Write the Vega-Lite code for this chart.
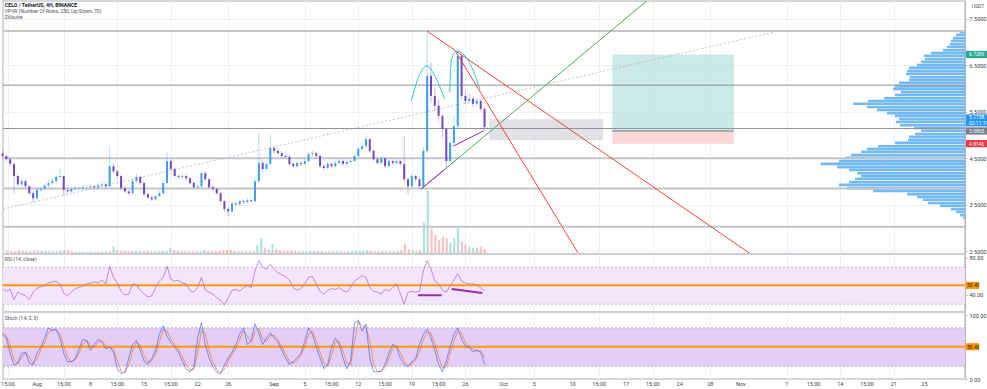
{
"$schema":"https://vega.github.io/schema/vega-lite/v6.json",
"padding":0,
"background":"#ffffff",
"bounds":"flush",
"spacing":0,
"config":{"font":"Roboto","view":{"stroke":"#c8cad0","strokeWidth":1.5},"axis":{"labelFontSize":5.5,"labelColor":"#3d404a","gridColor":"#eef0f5","gridWidth":1,"domainColor":"#b2b5be","tickColor":"#b2b5be","tickSize":2,"labelPadding":2}},
"datasets":{
"bars":[
{"d":-4.5,"o":4.6,"h":4.66,"l":4.5,"c":4.55,"v":0.05,"r":47,"k":70,"s":72},
{"d":-4,"o":4.55,"h":4.58,"l":4.44,"c":4.48,"v":0.04,"r":44,"k":64,"s":67},
{"d":-3.5,"o":4.48,"h":4.52,"l":4.33,"c":4.38,"v":0.04,"r":46,"k":40,"s":52},
{"d":-3,"o":4.38,"h":4.4,"l":3.75,"c":4.12,"v":0.06,"r":35,"k":22,"s":31},
{"d":-2.5,"o":4.12,"h":4.16,"l":3.9,"c":3.94,"v":0.05,"r":43,"k":25,"s":24},
{"d":-2,"o":3.94,"h":4.06,"l":3.9,"c":4.01,"v":0.04,"r":41,"k":40,"s":33},
{"d":-1.5,"o":4.01,"h":4.05,"l":3.86,"c":3.9,"v":0.04,"r":39,"k":42,"s":41},
{"d":-1,"o":3.9,"h":3.93,"l":3.7,"c":3.75,"v":0.05,"r":35,"k":25,"s":34},
{"d":-0.5,"o":3.75,"h":3.78,"l":3.56,"c":3.64,"v":0.06,"r":43,"k":22,"s":24},
{"d":0,"o":3.64,"h":3.86,"l":3.61,"c":3.82,"v":0.05,"r":47,"k":40,"s":31},
{"d":0.5,"o":3.82,"h":3.89,"l":3.78,"c":3.84,"v":0.04,"r":49,"k":50,"s":45},
{"d":1,"o":3.84,"h":3.96,"l":3.8,"c":3.92,"v":0.04,"r":50,"k":64,"s":57},
{"d":1.5,"o":3.92,"h":4.02,"l":3.88,"c":3.97,"v":0.04,"r":53,"k":80,"s":72},
{"d":2,"o":3.97,"h":4.06,"l":3.93,"c":4.01,"v":0.04,"r":54,"k":75,"s":78},
{"d":2.5,"o":4.01,"h":4.15,"l":3.98,"c":4.1,"v":0.05,"r":55,"k":78,"s":77},
{"d":3,"o":4.1,"h":4.29,"l":4.06,"c":4.12,"v":0.06,"r":52,"k":64,"s":71},
{"d":3.5,"o":4.12,"h":4.14,"l":3.7,"c":3.82,"v":0.06,"r":42,"k":40,"s":52},
{"d":4,"o":3.82,"h":3.86,"l":3.74,"c":3.79,"v":0.04,"r":39,"k":27,"s":34},
{"d":4.5,"o":3.79,"h":3.88,"l":3.76,"c":3.84,"v":0.03,"r":43,"k":27,"s":27},
{"d":5,"o":3.84,"h":3.9,"l":3.81,"c":3.86,"v":0.03,"r":47,"k":32,"s":30},
{"d":5.5,"o":3.86,"h":3.9,"l":3.82,"c":3.86,"v":0.03,"r":48,"k":47,"s":40},
{"d":6,"o":3.86,"h":3.92,"l":3.83,"c":3.88,"v":0.03,"r":50,"k":62,"s":55},
{"d":6.5,"o":3.88,"h":3.93,"l":3.84,"c":3.88,"v":0.03,"r":52,"k":60,"s":61},
{"d":7,"o":3.88,"h":3.94,"l":3.85,"c":3.9,"v":0.03,"r":53,"k":45,"s":53},
{"d":7.5,"o":3.9,"h":3.93,"l":3.84,"c":3.88,"v":0.03,"r":54,"k":54,"s":50},
{"d":8,"o":3.88,"h":3.96,"l":3.85,"c":3.92,"v":0.03,"r":53,"k":62,"s":58},
{"d":8.5,"o":3.92,"h":4,"l":3.89,"c":3.94,"v":0.03,"r":56,"k":57,"s":60},
{"d":9,"o":3.94,"h":3.98,"l":3.86,"c":3.9,"v":0.04,"r":52,"k":47,"s":52},
{"d":9.5,"o":3.9,"h":4.78,"l":3.88,"c":4.33,"v":0.12,"r":71,"k":50,"s":49},
{"d":10,"o":4.33,"h":4.4,"l":4.18,"c":4.22,"v":0.06,"r":59,"k":42,"s":46},
{"d":10.5,"o":4.22,"h":4.26,"l":4.07,"c":4.12,"v":0.05,"r":53,"k":16,"s":29},
{"d":11,"o":4.12,"h":4.15,"l":3.82,"c":3.86,"v":0.05,"r":44,"k":8,"s":12},
{"d":11.5,"o":3.86,"h":3.9,"l":3.74,"c":3.79,"v":0.04,"r":40,"k":11,"s":10},
{"d":12,"o":3.79,"h":3.82,"l":3.7,"c":3.75,"v":0.04,"r":41,"k":33,"s":22},
{"d":12.5,"o":3.75,"h":4.06,"l":3.73,"c":4.01,"v":0.05,"r":52,"k":54,"s":44},
{"d":13,"o":4.01,"h":4.16,"l":3.98,"c":4.1,"v":0.05,"r":51,"k":60,"s":57},
{"d":13.5,"o":4.1,"h":4.13,"l":3.93,"c":3.97,"v":0.04,"r":45,"k":45,"s":53},
{"d":14,"o":3.97,"h":4,"l":3.69,"c":3.73,"v":0.05,"r":41,"k":28,"s":37},
{"d":14.5,"o":3.73,"h":3.76,"l":3.62,"c":3.66,"v":0.04,"r":38,"k":23,"s":26},
{"d":15,"o":3.66,"h":3.7,"l":3.58,"c":3.62,"v":0.04,"r":39,"k":32,"s":28},
{"d":15.5,"o":3.62,"h":3.73,"l":3.59,"c":3.69,"v":0.04,"r":48,"k":45,"s":39},
{"d":16,"o":3.69,"h":3.8,"l":3.66,"c":3.75,"v":0.04,"r":55,"k":70,"s":58},
{"d":16.5,"o":3.75,"h":4.02,"l":3.72,"c":3.97,"v":0.05,"r":59,"k":83,"s":77},
{"d":17,"o":3.97,"h":4.65,"l":3.95,"c":4.44,"v":0.1,"r":71,"k":67,"s":75},
{"d":17.5,"o":4.44,"h":4.48,"l":4.22,"c":4.27,"v":0.06,"r":57,"k":57,"s":62},
{"d":18,"o":4.27,"h":4.3,"l":4.08,"c":4.12,"v":0.05,"r":55,"k":50,"s":54},
{"d":18.5,"o":4.12,"h":4.16,"l":4.06,"c":4.1,"v":0.04,"r":56,"k":42,"s":46},
{"d":19,"o":4.1,"h":4.16,"l":4.07,"c":4.12,"v":0.04,"r":53,"k":28,"s":35},
{"d":19.5,"o":4.12,"h":4.15,"l":4.03,"c":4.07,"v":0.04,"r":52,"k":16,"s":22},
{"d":20,"o":4.07,"h":4.1,"l":3.93,"c":3.97,"v":0.04,"r":45,"k":11,"s":14},
{"d":20.5,"o":3.97,"h":4,"l":3.84,"c":3.88,"v":0.04,"r":43,"k":19,"s":15},
{"d":21,"o":3.88,"h":3.95,"l":3.85,"c":3.9,"v":0.04,"r":48,"k":64,"s":42},
{"d":21.5,"o":3.9,"h":4.22,"l":3.88,"c":4.18,"v":0.06,"r":59,"k":88,"s":76},
{"d":22,"o":4.18,"h":4.21,"l":4.01,"c":4.05,"v":0.05,"r":45,"k":54,"s":71},
{"d":22.5,"o":4.05,"h":4.08,"l":3.84,"c":3.88,"v":0.04,"r":43,"k":33,"s":44},
{"d":23,"o":3.88,"h":3.92,"l":3.8,"c":3.84,"v":0.04,"r":41,"k":19,"s":26},
{"d":23.5,"o":3.84,"h":3.87,"l":3.71,"c":3.75,"v":0.05,"r":37,"k":11,"s":15},
{"d":24,"o":3.75,"h":3.78,"l":3.54,"c":3.58,"v":0.06,"r":34,"k":8,"s":10},
{"d":24.5,"o":3.58,"h":3.61,"l":3.36,"c":3.41,"v":0.07,"r":29,"k":22,"s":15},
{"d":25,"o":3.41,"h":3.45,"l":3.25,"c":3.36,"v":0.07,"r":37,"k":33,"s":28},
{"d":25.5,"o":3.36,"h":3.57,"l":3.33,"c":3.53,"v":0.05,"r":45,"k":42,"s":38},
{"d":26,"o":3.53,"h":3.57,"l":3.47,"c":3.51,"v":0.04,"r":46,"k":54,"s":48},
{"d":26.5,"o":3.51,"h":3.62,"l":3.48,"c":3.58,"v":0.04,"r":44,"k":70,"s":62},
{"d":27,"o":3.58,"h":3.61,"l":3.52,"c":3.56,"v":0.04,"r":48,"k":80,"s":75},
{"d":27.5,"o":3.56,"h":3.64,"l":3.53,"c":3.6,"v":0.04,"r":50,"k":54,"s":67},
{"d":28,"o":3.6,"h":3.63,"l":3.54,"c":3.58,"v":0.04,"r":48,"k":60,"s":57},
{"d":28.5,"o":3.58,"h":4.06,"l":3.56,"c":4.01,"v":0.14,"r":66,"k":86,"s":73},
{"d":29,"o":4.01,"h":5.02,"l":3.98,"c":4.4,"v":0.25,"r":77,"k":72,"s":79},
{"d":29.5,"o":4.4,"h":4.46,"l":4.2,"c":4.27,"v":0.1,"r":70,"k":54,"s":63},
{"d":30,"o":4.27,"h":4.45,"l":4.23,"c":4.38,"v":0.08,"r":68,"k":64,"s":59},
{"d":30.5,"o":4.38,"h":5,"l":4.35,"c":4.72,"v":0.16,"r":73,"k":72,"s":68},
{"d":31,"o":4.72,"h":4.78,"l":4.6,"c":4.66,"v":0.08,"r":68,"k":64,"s":68},
{"d":31.5,"o":4.66,"h":4.7,"l":4.57,"c":4.61,"v":0.06,"r":64,"k":57,"s":61},
{"d":32,"o":4.61,"h":4.65,"l":4.5,"c":4.55,"v":0.05,"r":62,"k":45,"s":51},
{"d":32.5,"o":4.55,"h":4.6,"l":4.49,"c":4.53,"v":0.05,"r":60,"k":33,"s":39},
{"d":33,"o":4.53,"h":4.56,"l":4.33,"c":4.38,"v":0.05,"r":56,"k":23,"s":28},
{"d":33.5,"o":4.38,"h":4.42,"l":4.28,"c":4.33,"v":0.05,"r":48,"k":27,"s":25},
{"d":34,"o":4.33,"h":4.45,"l":4.3,"c":4.4,"v":0.04,"r":45,"k":33,"s":30},
{"d":34.5,"o":4.4,"h":4.44,"l":4.34,"c":4.38,"v":0.04,"r":47,"k":40,"s":37},
{"d":35,"o":4.38,"h":4.49,"l":4.35,"c":4.44,"v":0.04,"r":52,"k":59,"s":50},
{"d":35.5,"o":4.44,"h":4.64,"l":4.41,"c":4.59,"v":0.05,"r":59,"k":80,"s":70},
{"d":36,"o":4.59,"h":4.66,"l":4.55,"c":4.61,"v":0.05,"r":60,"k":70,"s":75},
{"d":36.5,"o":4.61,"h":4.65,"l":4.51,"c":4.55,"v":0.04,"r":52,"k":50,"s":60},
{"d":37,"o":4.55,"h":4.58,"l":4.29,"c":4.33,"v":0.05,"r":44,"k":33,"s":42},
{"d":37.5,"o":4.33,"h":4.37,"l":4.24,"c":4.29,"v":0.04,"r":41,"k":16,"s":25},
{"d":38,"o":4.29,"h":4.42,"l":4.26,"c":4.38,"v":0.04,"r":45,"k":23,"s":20},
{"d":38.5,"o":4.38,"h":4.41,"l":4.29,"c":4.33,"v":0.04,"r":47,"k":50,"s":37},
{"d":39,"o":4.33,"h":4.44,"l":4.3,"c":4.4,"v":0.04,"r":46,"k":64,"s":57},
{"d":39.5,"o":4.4,"h":4.48,"l":4.37,"c":4.44,"v":0.04,"r":48,"k":54,"s":59},
{"d":40,"o":4.44,"h":4.47,"l":4.34,"c":4.38,"v":0.04,"r":45,"k":33,"s":44},
{"d":40.5,"o":4.38,"h":4.46,"l":4.35,"c":4.42,"v":0.04,"r":43,"k":16,"s":25},
{"d":41,"o":4.42,"h":4.48,"l":4.39,"c":4.44,"v":0.04,"r":48,"k":28,"s":22},
{"d":41.5,"o":4.44,"h":4.6,"l":4.41,"c":4.55,"v":0.05,"r":55,"k":88,"s":58},
{"d":42,"o":4.55,"h":4.75,"l":4.52,"c":4.7,"v":0.05,"r":58,"k":91,"s":90},
{"d":42.5,"o":4.7,"h":4.81,"l":4.66,"c":4.76,"v":0.05,"r":61,"k":75,"s":83},
{"d":43,"o":4.76,"h":5,"l":4.72,"c":4.91,"v":0.06,"r":59,"k":86,"s":81},
{"d":43.5,"o":4.91,"h":4.94,"l":4.62,"c":4.66,"v":0.05,"r":48,"k":33,"s":60},
{"d":44,"o":4.66,"h":4.7,"l":4.44,"c":4.48,"v":0.04,"r":44,"k":12,"s":23},
{"d":44.5,"o":4.48,"h":4.52,"l":4.36,"c":4.4,"v":0.04,"r":43,"k":11,"s":12},
{"d":45,"o":4.4,"h":4.54,"l":4.37,"c":4.5,"v":0.04,"r":41,"k":12,"s":12},
{"d":45.5,"o":4.5,"h":4.53,"l":4.29,"c":4.33,"v":0.04,"r":46,"k":23,"s":18},
{"d":46,"o":4.33,"h":4.48,"l":4.3,"c":4.44,"v":0.04,"r":44,"k":40,"s":32},
{"d":46.5,"o":4.44,"h":4.47,"l":4.36,"c":4.4,"v":0.04,"r":48,"k":54,"s":47},
{"d":47,"o":4.4,"h":4.48,"l":4.37,"c":4.44,"v":0.04,"r":52,"k":50,"s":52},
{"d":47.5,"o":4.44,"h":4.47,"l":4.34,"c":4.38,"v":0.06,"r":41,"k":32,"s":41},
{"d":48,"o":4.38,"h":4.98,"l":3.98,"c":4.05,"v":0.16,"r":30,"k":23,"s":28},
{"d":48.5,"o":4.05,"h":4.08,"l":3.73,"c":3.9,"v":0.08,"r":43,"k":19,"s":21},
{"d":49,"o":3.9,"h":4.16,"l":3.87,"c":4.12,"v":0.06,"r":44,"k":27,"s":23},
{"d":49.5,"o":4.12,"h":4.16,"l":4,"c":4.05,"v":0.05,"r":43,"k":32,"s":30},
{"d":50,"o":4.05,"h":4.08,"l":3.84,"c":3.9,"v":0.06,"r":44,"k":54,"s":43},
{"d":50.5,"o":3.9,"h":4.75,"l":3.84,"c":4.66,"v":0.5,"r":66,"k":70,"s":62},
{"d":51,"o":4.66,"h":7.23,"l":4.6,"c":6.27,"v":1,"r":77,"k":78,"s":74},
{"d":51.5,"o":6.27,"h":6.55,"l":5.7,"c":5.84,"v":0.4,"r":68,"k":64,"s":71},
{"d":52,"o":5.84,"h":6,"l":5.5,"c":5.63,"v":0.3,"r":55,"k":45,"s":55},
{"d":52.5,"o":5.63,"h":5.75,"l":5.3,"c":5.41,"v":0.22,"r":52,"k":23,"s":34},
{"d":53,"o":5.41,"h":5.45,"l":4.95,"c":5.13,"v":0.28,"r":45,"k":11,"s":17},
{"d":53.5,"o":5.13,"h":5.16,"l":4.27,"c":4.44,"v":0.25,"r":43,"k":28,"s":20},
{"d":54,"o":4.44,"h":4.9,"l":4.4,"c":4.83,"v":0.18,"r":50,"k":50,"s":39},
{"d":54.5,"o":4.83,"h":5.4,"l":4.8,"c":5.19,"v":0.25,"r":56,"k":70,"s":60},
{"d":55,"o":5.19,"h":6.8,"l":5.15,"c":6.7,"v":0.42,"r":63,"k":80,"s":75},
{"d":55.5,"o":6.7,"h":6.75,"l":5.75,"c":5.84,"v":0.2,"r":55,"k":62,"s":71},
{"d":56,"o":5.84,"h":5.95,"l":5.65,"c":5.73,"v":0.15,"r":53,"k":52,"s":57},
{"d":56.5,"o":5.73,"h":5.88,"l":5.68,"c":5.78,"v":0.12,"r":52,"k":49,"s":51},
{"d":57,"o":5.78,"h":5.82,"l":5.6,"c":5.67,"v":0.1,"r":52,"k":42,"s":46},
{"d":57.5,"o":5.67,"h":5.8,"l":5.63,"c":5.73,"v":0.1,"r":51,"k":45,"s":44},
{"d":58,"o":5.73,"h":5.76,"l":5.5,"c":5.56,"v":0.12,"r":48,"k":42,"s":44},
{"d":58.5,"o":5.56,"h":5.6,"l":5.1,"c":5.17,"v":0.08,"r":44,"k":23,"s":33}
],
"vp":[
{"p":7.21,"w":5},{"p":7.15,"w":9},{"p":7.08,"w":12},{"p":7.02,"w":14},{"p":6.95,"w":15},{"p":6.89,"w":18},{"p":6.82,"w":22},{"p":6.76,"w":34},{"p":6.70,"w":41},{"p":6.63,"w":40},{"p":6.57,"w":44},{"p":6.50,"w":48},{"p":6.44,"w":56},{"p":6.37,"w":58},{"p":6.31,"w":59},{"p":6.24,"w":55},{"p":6.18,"w":56},{"p":6.12,"w":66},{"p":6.05,"w":70},{"p":5.99,"w":72},{"p":5.92,"w":64},{"p":5.86,"w":70},{"p":5.79,"w":81},{"p":5.73,"w":97},{"p":5.67,"w":112},{"p":5.60,"w":98},{"p":5.54,"w":88},{"p":5.47,"w":78},{"p":5.41,"w":70},{"p":5.34,"w":66},{"p":5.28,"w":69},{"p":5.21,"w":65},{"p":5.15,"w":51},{"p":5.09,"w":44},{"p":5.02,"w":50},{"p":4.96,"w":56},{"p":4.89,"w":57},{"p":4.83,"w":70},{"p":4.76,"w":87},{"p":4.70,"w":98},{"p":4.64,"w":104},{"p":4.57,"w":114},{"p":4.51,"w":120},{"p":4.44,"w":126},{"p":4.38,"w":144},{"p":4.31,"w":128},{"p":4.25,"w":116},{"p":4.18,"w":108},{"p":4.12,"w":104},{"p":4.06,"w":110},{"p":3.99,"w":116},{"p":3.93,"w":126},{"p":3.86,"w":118},{"p":3.80,"w":92},{"p":3.73,"w":58},{"p":3.67,"w":48},{"p":3.61,"w":42},{"p":3.54,"w":37},{"p":3.48,"w":25},{"p":3.41,"w":14},{"p":3.35,"w":9},{"p":3.28,"w":5},{"p":3.22,"w":2}
],
"levels":[{"p":7.23,"k":"a"},{"p":6.07,"k":"b"},{"p":5.14,"k":"b"},{"p":4.5,"k":"a"},{"p":3.85,"k":"a"},{"p":3.03,"k":"a"}],
"trend":[{"d":-4.44,"p":3.41},{"d":96.9,"p":7.23}],
"draw":[
{"id":"green","d":50.2,"p":3.84},{"id":"green","d":79.7,"p":7.876},
{"id":"red1","d":50.98,"p":7.23},{"id":"red1","d":93.07,"p":2.47},
{"id":"red2","d":54.77,"p":6.78},{"id":"red2","d":70.72,"p":2.47},
{"id":"pv1","d":50.2,"p":3.84},{"id":"pv1","d":53.2,"p":4.25},
{"id":"pv2","d":54.4,"p":4.76},{"id":"pv2","d":58.4,"p":5.09},
{"id":"arc1","d":48.93,"p":5.73},{"id":"arc1","d":50.03,"p":6.3},{"id":"arc1","d":50.98,"p":6.48},{"id":"arc1","d":51.99,"p":6.27},{"id":"arc1","d":53.29,"p":5.77},
{"id":"arc2","d":53.95,"p":5.91},{"id":"arc2","d":54.16,"p":6.59},{"id":"arc2","d":54.6,"p":6.78},{"id":"arc2","d":55.03,"p":6.8},{"id":"arc2","d":56.1,"p":6.66},{"id":"arc2","d":57.2,"p":6.31},{"id":"arc2","d":57.87,"p":5.99}
],
"boxes":[{"id":"zone","d1":59.1,"d2":74.0,"p1":4.89,"p2":5.34},{"id":"tp","d1":75.2,"d2":91.1,"p1":5.0865,"p2":6.7289},{"id":"sl","d1":75.2,"d2":91.1,"p1":4.8146,"p2":5.0865}],
"tags":[{"p":6.7289,"t":"6.7289","k":"tp"},{"p":5.0865,"t":"5.0865","k":"entry"},{"p":4.8146,"t":"4.8146","k":"sl"}],
"last":[{"p":5.1738,"t":"5.1738","cd":"02:11:19"}],
"titles":[{"n":1,"t":"CELO / TetherUS, 4H, BINANCE","p":7.79},{"n":2,"t":"VPVR (Number Of Rows, 250, Up/Down, 70)","p":7.66},{"n":3,"t":"Zillsuite","p":7.53}],
"unit":[{"t":"USDT","p":7.77}],
"rsiband":[{"lo":30,"hi":70}],
"rsilines":[{"v":70},{"v":30}],
"stband":[{"lo":20,"hi":80}],
"stlines":[{"v":80},{"v":20}],
"hl":[{"v":50.4,"t":"50.40"}],
"rsidiv":[{"id":1,"d":49.8,"v":39.7},{"id":1,"d":52.9,"v":39.7},{"id":2,"d":54.2,"v":46.5},{"id":2,"d":58.2,"v":42.2}],
"ptitle":[{"t":"RSI (14, close)","v":79},{"t":"Stoch (14, 3, 3)","v":95}],
"xlab":[{"d":-3.8,"t":"15:00"},{"d":0,"t":"Aug"},{"d":3.5,"t":"15:00"},{"d":7,"t":"8"},{"d":10.5,"t":"15:00"},{"d":14,"t":"15"},{"d":17.5,"t":"15:00"},{"d":21,"t":"22"},{"d":25,"t":"26"},{"d":31,"t":"Sep"},{"d":35,"t":"5"},{"d":38.5,"t":"15:00"},{"d":42,"t":"12"},{"d":45.5,"t":"15:00"},{"d":49,"t":"19"},{"d":52.5,"t":"15:00"},{"d":56,"t":"26"},{"d":61,"t":"Oct"},{"d":65,"t":"5"},{"d":70,"t":"10"},{"d":73.5,"t":"15:00"},{"d":77,"t":"17"},{"d":80.5,"t":"15:00"},{"d":84,"t":"24"},{"d":88,"t":"28"},{"d":92,"t":"Nov"},{"d":98,"t":"7"},{"d":101.5,"t":"15:00"},{"d":105,"t":"14"},{"d":108.5,"t":"15:00"},{"d":112,"t":"21"},{"d":116,"t":"25"}],
"xpos":[{"y":-7.8}]
},
"resolve":{"scale":{"x":"independent","y":"independent"}},
"vconcat":[
{
"width":962,"height":253,
"resolve":{"scale":{"x":"independent","y":"independent"}},
"layer":[
{"data":{"name":"vp"},"mark":{"type":"rule","strokeWidth":2.6,"color":"#5aaef2","opacity":0.85},
 "encoding":{"x":{"field":"w","type":"quantitative","scale":{"domain":[0,962],"reverse":true,"nice":false,"zero":false},"axis":null},"x2":{"datum":0},
 "y":{"field":"p","type":"quantitative","scale":{"domain":[2.446,7.876],"nice":false,"zero":false},"axis":null}}},
{"data":{"name":"bars"},"mark":{"type":"bar","size":2.2,"opacity":0.35,"orient":"vertical"},
 "encoding":{"x":{"field":"d","type":"quantitative","scale":{"domain":[-4.44,121.3],"nice":false,"zero":false},"axis":null},
 "y":{"field":"v","type":"quantitative","scale":{"domain":[0,4],"nice":false},"axis":null},
 "color":{"condition":{"test":"datum.c>=datum.o","value":"#26a69a"},"value":"#ef5350"}}},
{"layer":[
 {"data":{"name":"boxes"},"mark":{"type":"rect","opacity":0.75},
  "encoding":{"x":{"field":"d1","type":"quantitative","title":null,"scale":{"domain":[-4.44,121.3],"nice":false,"zero":false},
   "axis":{"values":[-3.8,0,3.5,7,10.5,14,17.5,21,25,31,35,38.5,42,45.5,49,52.5,56,61,65,70,73.5,77,80.5,84,88,92,98,101.5,105,108.5,112,116],"labels":false,"ticks":false,"domain":false,"grid":true}},"x2":{"field":"d2"},
  "y":{"field":"p1","type":"quantitative","title":null,"scale":{"domain":[2.446,7.876],"nice":false,"zero":false},
   "axis":{"orient":"right","values":[2.5,3,3.5,4,4.5,5,5.5,6,6.5,7,7.5],"format":".4f","grid":true}},"y2":{"field":"p2"},
  "fill":{"field":"id","type":"nominal","scale":{"domain":["zone","tp","sl"],"range":["#d6d8de","#b9e2dd","#fcc9cb"]},"legend":null}}},
 {"data":{"name":"boxes"},"transform":[{"filter":"datum.id=='tp'"}],"mark":{"type":"rule","color":"#5f7f7c","strokeWidth":1},
  "encoding":{"x":{"field":"d1","type":"quantitative","title":null},"x2":{"field":"d2"},"y":{"field":"p1","type":"quantitative","title":null}}},
 {"data":{"name":"levels"},"transform":[{"filter":"datum.k=='a'"}],"mark":{"type":"rule","color":"#c3c5cc","strokeWidth":2},
  "encoding":{"y":{"field":"p","type":"quantitative","title":null}}},
 {"data":{"name":"levels"},"transform":[{"filter":"datum.k=='b'"}],"mark":{"type":"rule","color":"#8d909a","strokeWidth":1},
  "encoding":{"y":{"field":"p","type":"quantitative","title":null}}},
 {"data":{"name":"trend"},"mark":{"type":"line","color":"#b2b5be","strokeWidth":0.8,"strokeDash":[2,2]},
  "encoding":{"x":{"field":"d","type":"quantitative","title":null},"y":{"field":"p","type":"quantitative","title":null}}},
 {"data":{"name":"bars"},"mark":{"type":"rule","strokeWidth":0.8,"opacity":0.5},
  "encoding":{"x":{"field":"d","type":"quantitative","title":null},
  "y":{"field":"l","type":"quantitative","title":null},
  "y2":{"field":"h"},
  "color":{"condition":{"test":"datum.c>=datum.o","value":"#42a5f5"},"value":"#7e57c2"}}},
 {"data":{"name":"bars"},"mark":{"type":"rule","strokeWidth":2},
  "encoding":{"x":{"field":"d","type":"quantitative","title":null},"y":{"field":"o","type":"quantitative","title":null},"y2":{"field":"c"},
  "color":{"condition":{"test":"datum.c>=datum.o","value":"#3b9cf1"},"value":"#7048c4"}}},
 {"data":{"name":"draw"},"mark":{"type":"line","clip":true,"interpolate":"monotone"},
  "encoding":{"x":{"field":"d","type":"quantitative","title":null},"y":{"field":"p","type":"quantitative","title":null},"detail":{"field":"id"},
  "color":{"field":"id","type":"nominal","scale":{"domain":["green","red1","red2","pv1","pv2","arc1","arc2"],"range":["#4caf50","#f44336","#f44336","#9c27b0","#9c27b0","#26c6da","#26c6da"]},"legend":null},
  "strokeWidth":{"field":"id","type":"nominal","scale":{"domain":["green","red1","red2","pv1","pv2","arc1","arc2"],"range":[1,1,1,2,2,1,1]},"legend":null}}},
 {"data":{"name":"tags"},"mark":{"type":"rect","xOffset":1,"x2Offset":25,"yOffset":-3.6,"y2Offset":3.6},
  "encoding":{"x":{"datum":121.3},"x2":{"datum":121.3},"y":{"field":"p","type":"quantitative","title":null},"y2":{"field":"p"},
  "color":{"condition":[{"test":"datum.k=='tp'","value":"#22ab94"},{"test":"datum.k=='sl'","value":"#f23645"}],"value":"#787b86"}}},
 {"data":{"name":"tags"},"mark":{"type":"text","align":"left","baseline":"middle","dx":4,"fontSize":5,"color":"#ffffff"},
  "encoding":{"x":{"datum":121.3},"y":{"field":"p","type":"quantitative","title":null},"text":{"field":"t"}}},
 {"data":{"name":"last"},"mark":{"type":"rect","color":"#2196f3","xOffset":1,"x2Offset":25,"yOffset":-12.5,"y2Offset":-0.5},
  "encoding":{"x":{"datum":121.3},"x2":{"datum":121.3},"y":{"field":"p","type":"quantitative","title":null},"y2":{"field":"p"}}},
 {"data":{"name":"last"},"mark":{"type":"text","align":"left","baseline":"middle","dx":4,"dy":-9.5,"fontSize":5,"color":"#ffffff"},
  "encoding":{"x":{"datum":121.3},"y":{"field":"p","type":"quantitative","title":null},"text":{"field":"t"}}},
 {"data":{"name":"last"},"mark":{"type":"text","align":"left","baseline":"middle","dx":4,"dy":-3.5,"fontSize":5,"color":"#ffffff"},
  "encoding":{"x":{"datum":121.3},"y":{"field":"p","type":"quantitative","title":null},"text":{"field":"cd"}}},
 {"data":{"name":"unit"},"mark":{"type":"text","align":"center","baseline":"middle","dx":13,"fontSize":5,"color":"#50535e"},
  "encoding":{"x":{"datum":121.3},"y":{"field":"p","type":"quantitative","title":null},"text":{"field":"t"}}},
 {"data":{"name":"titles"},"transform":[{"filter":"datum.n==1"}],"mark":{"type":"text","align":"left","baseline":"middle","fontSize":5.2,"fontWeight":"bold","color":"#131722"},
  "encoding":{"x":{"datum":-4.2},"y":{"field":"p","type":"quantitative","title":null},"text":{"field":"t"}}},
 {"data":{"name":"titles"},"transform":[{"filter":"datum.n>1"}],"mark":{"type":"text","align":"left","baseline":"middle","fontSize":5,"color":"#50535e"},
  "encoding":{"x":{"datum":-4.2},"y":{"field":"p","type":"quantitative","title":null},"text":{"field":"t"}}}
]}
]
},
{
"width":962,"height":58,
"layer":[
 {"data":{"name":"bars"},"mark":{"type":"line","opacity":0},
  "encoding":{"x":{"field":"d","type":"quantitative","title":null,"scale":{"domain":[-4.44,121.3],"nice":false,"zero":false},
   "axis":{"values":[-3.8,0,3.5,7,10.5,14,17.5,21,25,31,35,38.5,42,45.5,49,52.5,56,61,65,70,73.5,77,80.5,84,88,92,98,101.5,105,108.5,112,116],"labels":false,"ticks":false,"domain":false,"grid":true}},
  "y":{"field":"r","type":"quantitative","title":null,"scale":{"domain":[21.6,84.3],"nice":false,"zero":false},"axis":{"orient":"right","values":[40,60,80],"format":".2f","grid":false}}}},
 {"data":{"name":"rsiband"},"mark":{"type":"rect","color":"#f3e6fc"},
  "encoding":{"x":{"datum":-4.44},"x2":{"datum":121.3},"y":{"field":"lo","type":"quantitative","title":null},"y2":{"field":"hi"}}},
 {"data":{"name":"rsilines"},"mark":{"type":"rule","color":"#b9b0c4","strokeWidth":0.8,"strokeDash":[2,2]},
  "encoding":{"y":{"field":"v","type":"quantitative","title":null}}},
 {"data":{"name":"hl"},"mark":{"type":"rule","color":"#ff9800","strokeWidth":2},
  "encoding":{"y":{"field":"v","type":"quantitative","title":null}}},
 {"data":{"name":"bars"},"mark":{"type":"line","color":"#b66ccd","strokeWidth":0.8},
  "encoding":{"x":{"field":"d","type":"quantitative","title":null},"y":{"field":"r","type":"quantitative","title":null}}},
 {"data":{"name":"rsidiv"},"mark":{"type":"line","color":"#9c27b0","strokeWidth":2},
  "encoding":{"x":{"field":"d","type":"quantitative","title":null},"y":{"field":"v","type":"quantitative","title":null},"detail":{"field":"id"}}},
 {"data":{"name":"ptitle"},"transform":[{"filter":"datum.v<90"}],"mark":{"type":"text","align":"left","baseline":"middle","fontSize":5,"color":"#50535e"},
  "encoding":{"x":{"datum":-4.2},"y":{"field":"v","type":"quantitative","title":null},"text":{"field":"t"}}},
 {"data":{"name":"hl"},"mark":{"type":"rect","color":"#ff9800","xOffset":1,"x2Offset":14,"yOffset":-3.6,"y2Offset":3.6},
  "encoding":{"x":{"datum":121.3},"x2":{"datum":121.3},"y":{"field":"v","type":"quantitative","title":null},"y2":{"field":"v"}}},
 {"data":{"name":"hl"},"mark":{"type":"text","align":"left","baseline":"middle","dx":2,"fontSize":5,"color":"#131722"},
  "encoding":{"x":{"datum":121.3},"y":{"field":"v","type":"quantitative","title":null},"text":{"field":"t"}}}
]
},
{
"width":962,"height":67,
"layer":[
 {"data":{"name":"bars"},"mark":{"type":"line","opacity":0},
  "encoding":{"x":{"field":"d","type":"quantitative","title":null,"scale":{"domain":[-4.44,121.3],"nice":false,"zero":false},
   "axis":{"values":[-3.8,0,3.5,7,10.5,14,17.5,21,25,31,35,38.5,42,45.5,49,52.5,56,61,65,70,73.5,77,80.5,84,88,92,98,101.5,105,108.5,112,116],"labels":false,"ticks":false,"domain":false,"grid":true}},
  "y":{"field":"k","type":"quantitative","title":null,"scale":{"domain":[0,104.7],"nice":false,"zero":false},"axis":{"orient":"right","values":[0,20,40,60,80,100],"format":".2f","grid":false}}}},
 {"data":{"name":"stband"},"mark":{"type":"rect","color":"#e4cdf7"},
  "encoding":{"x":{"datum":-4.44},"x2":{"datum":121.3},"y":{"field":"lo","type":"quantitative","title":null},"y2":{"field":"hi"}}},
 {"data":{"name":"stlines"},"mark":{"type":"rule","color":"#a99fb6","strokeWidth":0.8,"strokeDash":[2,2]},
  "encoding":{"y":{"field":"v","type":"quantitative","title":null}}},
 {"data":{"name":"hl"},"mark":{"type":"rule","color":"#ff9800","strokeWidth":2},
  "encoding":{"y":{"field":"v","type":"quantitative","title":null}}},
 {"data":{"name":"bars"},"mark":{"type":"line","color":"#ff6d00","strokeWidth":0.8,"opacity":0.8},
  "encoding":{"x":{"field":"d","type":"quantitative","title":null},"y":{"field":"s","type":"quantitative","title":null}}},
 {"data":{"name":"bars"},"mark":{"type":"line","color":"#2962ff","strokeWidth":0.8,"opacity":0.8},
  "encoding":{"x":{"field":"d","type":"quantitative","title":null},"y":{"field":"k","type":"quantitative","title":null}}},
 {"data":{"name":"ptitle"},"transform":[{"filter":"datum.v>90"}],"mark":{"type":"text","align":"left","baseline":"middle","fontSize":5,"color":"#50535e"},
  "encoding":{"x":{"datum":-4.2},"y":{"field":"v","type":"quantitative","title":null},"text":{"field":"t"}}},
 {"data":{"name":"hl"},"mark":{"type":"rect","color":"#ff9800","xOffset":1,"x2Offset":14,"yOffset":-3.6,"y2Offset":3.6},
  "encoding":{"x":{"datum":121.3},"x2":{"datum":121.3},"y":{"field":"v","type":"quantitative","title":null},"y2":{"field":"v"}}},
 {"data":{"name":"hl"},"mark":{"type":"text","align":"left","baseline":"middle","dx":2,"fontSize":5,"color":"#131722"},
  "encoding":{"x":{"datum":121.3},"y":{"field":"v","type":"quantitative","title":null},"text":{"field":"t"}}},
 {"data":{"name":"xlab"},"mark":{"type":"text","align":"center","baseline":"middle","fontSize":5.5,"color":"#3d404a"},
  "encoding":{"x":{"field":"d","type":"quantitative","title":null},"y":{"datum":-7.8},"text":{"field":"t"}}}
]
}
]
}
